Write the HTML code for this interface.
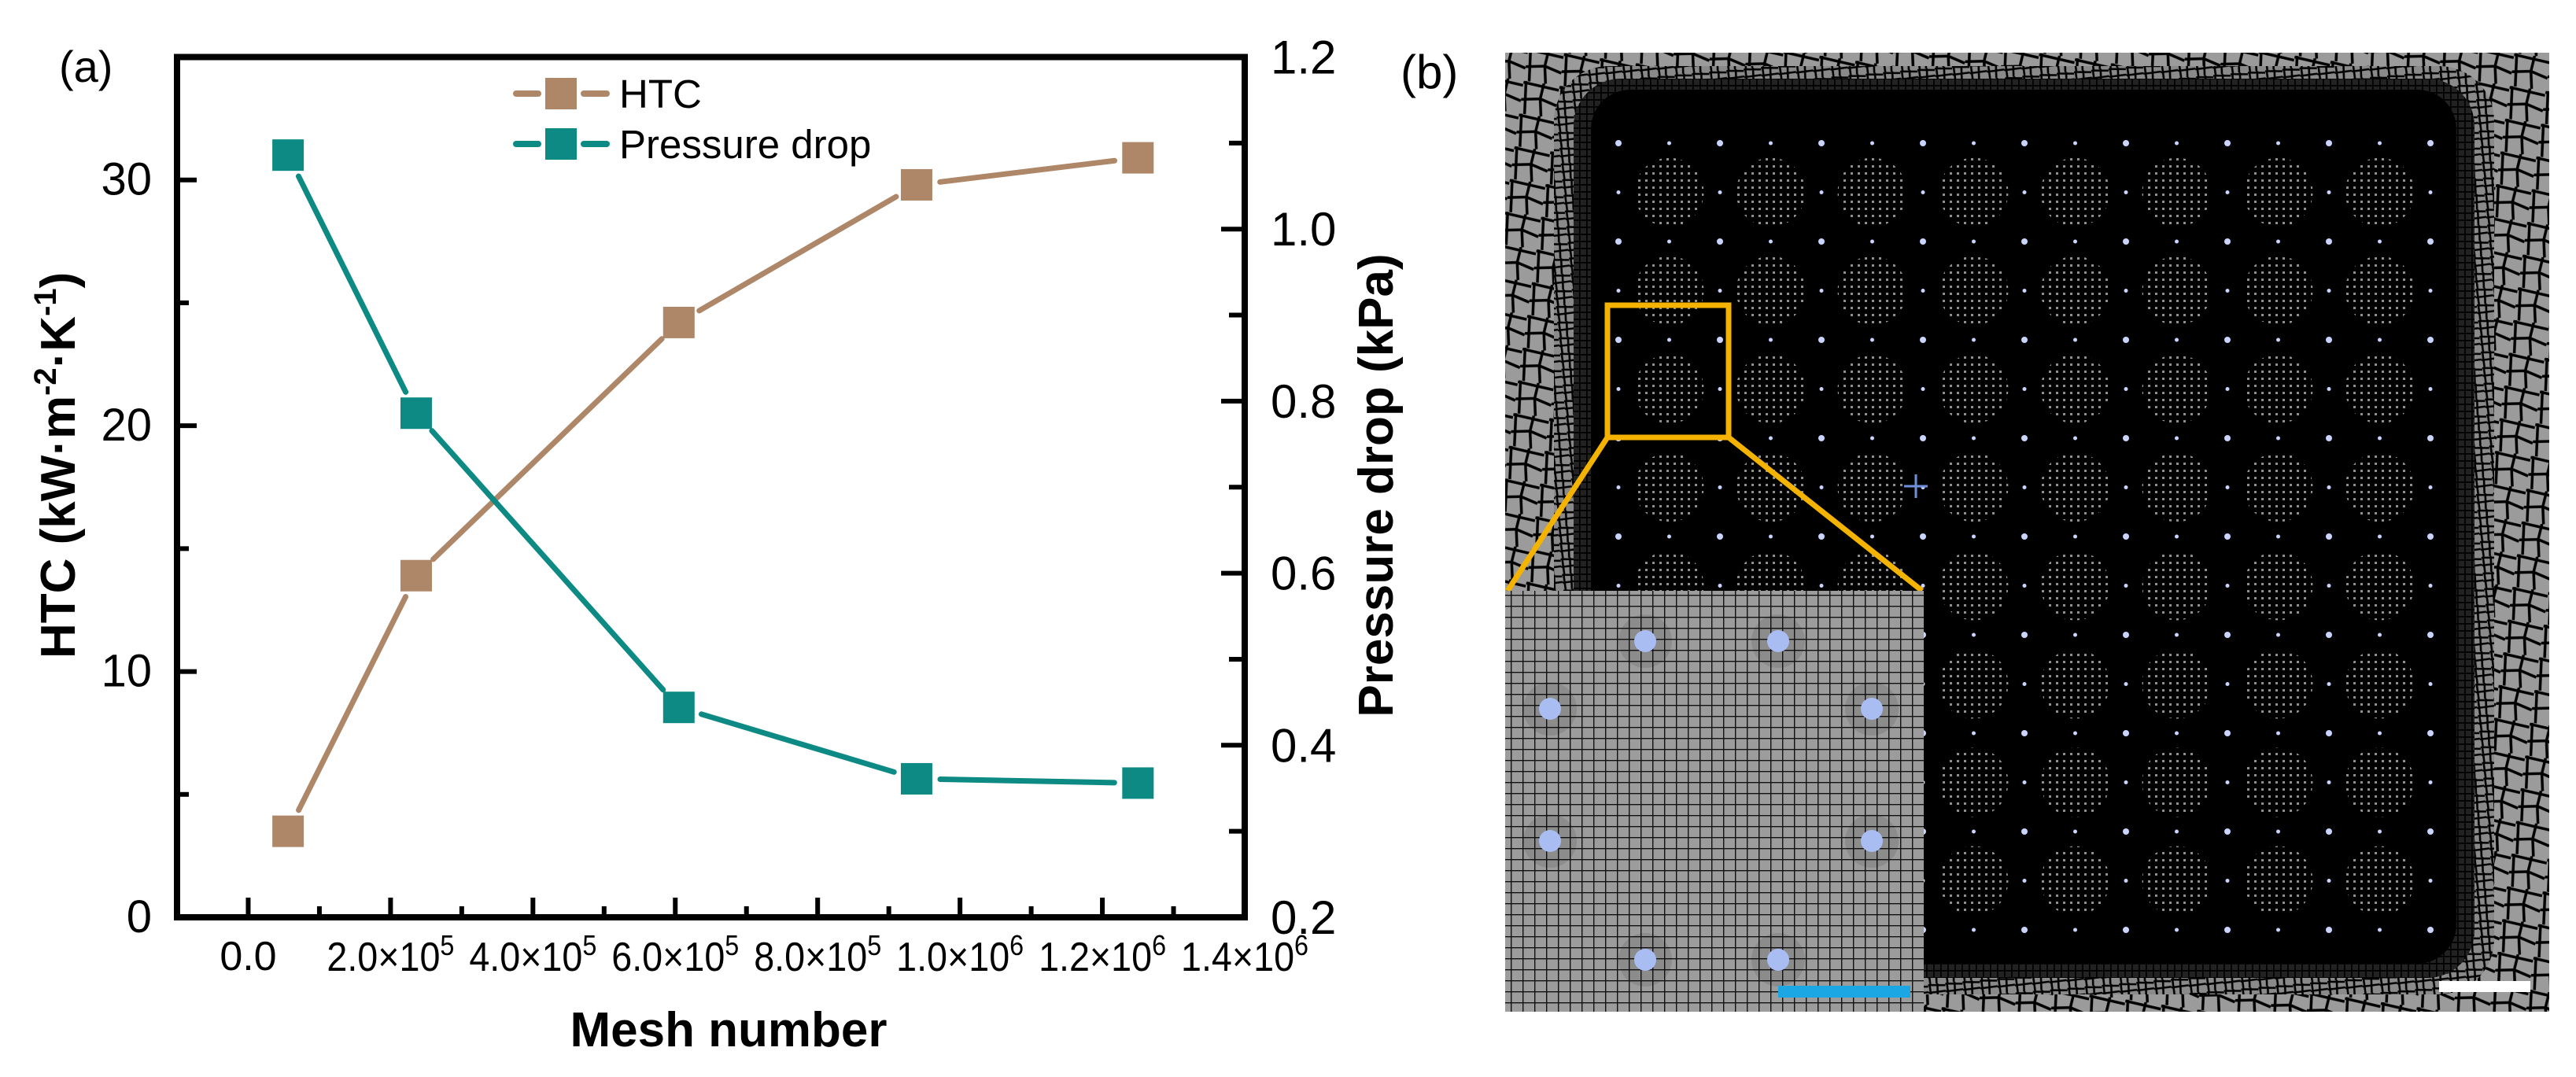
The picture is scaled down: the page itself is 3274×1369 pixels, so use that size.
<!DOCTYPE html>
<html><head><meta charset="utf-8"><style>
html,body{margin:0;padding:0;background:#fff;}
svg{display:block;font-family:"Liberation Sans",Arial,sans-serif;}
</style></head><body>
<svg id="fig" width="3274" height="1369" viewBox="0 0 3274 1369" xmlns="http://www.w3.org/2000/svg">
<defs>
  <pattern id="coarse" width="46" height="42" patternUnits="userSpaceOnUse" patternTransform="rotate(8)">
    <rect width="46" height="42" fill="#9b9b9b"/>
    <path d="M0 2 L46 6 M3 0 L7 42 M0 24 L24 20 L46 26 M26 0 L24 20 L28 42" stroke="#000" stroke-width="3.5" fill="none"/>
  </pattern>
  <pattern id="medium" width="22" height="20" patternUnits="userSpaceOnUse" patternTransform="rotate(-5)">
    <rect width="22" height="20" fill="#8a8a8a"/>
    <path d="M0 1 L22 3 M2 0 L3 20 M0 11 L22 10 M12 0 L11 20" stroke="#000" stroke-width="2.6" fill="none"/>
  </pattern>
  <pattern id="fine" width="9" height="9" patternUnits="userSpaceOnUse">
    <rect width="9" height="9" fill="#222"/>
    <path d="M0 0.5 L9 0.5 M0.5 0 L0.5 9" stroke="#000" stroke-width="2.4"/>
  </pattern>
  <pattern id="speck" width="9" height="9" patternUnits="userSpaceOnUse">
    <rect width="9" height="9" fill="#000"/>
    <rect x="3" y="3" width="3" height="3" fill="#a0a0a0"/>
  </pattern>
  <pattern id="insetmesh" width="15" height="14" patternUnits="userSpaceOnUse">
    <rect width="15" height="14" fill="#9c9c9c"/>
    <path d="M0 0.6 L15 0.6 M0.6 0 L0.6 14" stroke="#111" stroke-width="1.6"/>
  </pattern>
</defs>

<text x="75" y="104" font-size="56">(a)</text>
<text x="1780" y="112" font-size="60">(b)</text>

<g id="chart"></g>

<g>
  <rect x="1913" y="67" width="1327" height="1219" fill="url(#coarse)"/>
  <rect x="1975" y="84" width="1195" height="1180" rx="70" fill="url(#medium)"/>
  <rect x="2000" y="100" width="1145" height="1143" rx="60" fill="url(#fine)"/>
  <rect x="2022" y="114" width="1100" height="1111" rx="50" fill="#000"/>
  <g id="cells"></g>
  <g stroke="#6f8fdc" stroke-width="3">
    <line x1="2420" y1="618" x2="2450" y2="618"/><line x1="2435" y1="603" x2="2435" y2="633"/>
  </g>
  <rect x="3100" y="1247" width="116" height="14" fill="#fff"/>
  <rect x="2043" y="388" width="154" height="168" fill="none" stroke="#f5b301" stroke-width="7"/>
  <line x1="2043" y1="556" x2="1916" y2="751" stroke="#f5b301" stroke-width="7"/>
  <line x1="2197" y1="556" x2="2443" y2="751" stroke="#f5b301" stroke-width="7"/>
  <g>
    <rect x="1913" y="751" width="532" height="535" fill="url(#insetmesh)"/>
    <g id="insetdots"></g>
    <rect x="2260" y="1253" width="168" height="15" fill="#1aa7e3"/>
  </g>
</g>

<script>
// ---- Chart (a) data ----
const meshNumbers = [56000, 236000, 605000, 939000, 1250000];
const htcValues = [3.5, 13.9, 24.2, 29.8, 30.9];
const pressureValues = [1.086, 0.786, 0.444, 0.361, 0.356];
const xTickValues = [0, 200000, 400000, 600000, 800000, 1000000, 1200000, 1400000];
const xTickMantissa = ["0.0", "2.0", "4.0", "6.0", "8.0", "1.0", "1.2", "1.4"];
const xTickExp = ["", "5", "5", "5", "5", "6", "6", "6"];
const yLeftTicks = [0, 10, 20, 30];
const yRightTicks = [0.2, 0.4, 0.6, 0.8, 1.0, 1.2];
const seriesNames = ["HTC", "Pressure drop"];

const NS = "http://www.w3.org/2000/svg";
const L = 225, R = 1582, T = 72.5, B = 1166;
const X0 = -100000, X1 = 1400000, YL0 = 0, YL1 = 35, YR0 = 0.2, YR1 = 1.2;
function xS(v){ return L + (v - X0) / (X1 - X0) * (R - L); }
function yL(v){ return B - (v - YL0) / (YL1 - YL0) * (B - T); }
function yR(v){ return B - (v - YR0) / (YR1 - YR0) * (B - T); }
function mk(tag, attrs, parent){ const e = document.createElementNS(NS, tag); for (const k in attrs) e.setAttribute(k, attrs[k]); parent.appendChild(e); return e; }
const chart = document.getElementById("chart");
const C_HTC = "#ad8767", C_P = "#0d8a84";

const frame = mk("rect", {x:L, y:T, width:R-L, height:B-T, fill:"none", stroke:"#000", "stroke-width":8}, chart);



const xt = mk("g", {}, chart);


for (let i = 0; i < xTickValues.length; i++) {
  const x = xS(xTickValues[i]);
  if (i < xTickValues.length - 1) mk("line", {x1:x, y1:B, x2:x, y2:B-25, stroke:"#000", "stroke-width":6}, xt);
  const xm = xS(xTickValues[i] + 100000);
  if (xTickValues[i] + 100000 < X1) mk("line", {x1:xm, y1:B, x2:xm, y2:B-14, stroke:"#000", "stroke-width":6}, xt);
  const t = mk("text", {x:x, y:1234, "font-size":52, "text-anchor":"middle"}, xt);
  
  
  if (xTickExp[i]) {
    const a = mk("tspan", {}, t); a.textContent = xTickMantissa[i] + "×10";
    const b = mk("tspan", {dy:-20, "font-size":36}, t); b.textContent = xTickExp[i];
    t.setAttribute("textLength", 162); t.setAttribute("lengthAdjust", "spacingAndGlyphs");
    t.setAttribute("x", x - 81); t.setAttribute("text-anchor", "start");
  } else { t.textContent = xTickMantissa[i]; t.setAttribute("y", 1233); }
}
const yt = mk("g", {}, chart);


for (let v = 0; v <= 35; v += 5) {
  const y = yL(v); const major = v % 10 === 0;
  if (v > 0 && v < 35) mk("line", {x1:L, y1:y, x2:L + (major ? 25 : 15), y2:y, stroke:"#000", "stroke-width":6}, yt);
}
for (const v of yLeftTicks) {
  const t = mk("text", {x:193, y:yL(v) + 19, "font-size":58, "text-anchor":"end"}, yt);
  
  
  t.textContent = String(v);
}
const rt = mk("g", {}, chart);


for (let k = 3; k <= 11; k++) {
  const v = k / 10; const y = yR(v); const major = k % 2 === 0;
  mk("line", {x1:R, y1:y, x2:R - (major ? 30 : 20), y2:y, stroke:"#000", "stroke-width":6}, rt);
}
for (const v of yRightTicks) {
  const t = mk("text", {x:1615, y:yR(v) + 21, "font-size":60}, rt);
  
  
  t.textContent = v.toFixed(1);
}
const xtl = mk("text", {x:926, y:1330, "font-size":62, "font-weight":"bold", "text-anchor":"middle"}, chart);


xtl.textContent = "Mesh number";
const ytl = mk("text", {x:0, y:0, "font-size":62, "font-weight":"bold", "text-anchor":"start", transform:"translate(95,837) rotate(-90)"}, chart);


(function(){
  const parts = [["HTC (kW·m",0],["-2",-24],["·K",24],["-1",-24],[")",24]];
  for (const p of parts) { const s = mk("tspan", {dy:p[1]}, ytl); if (p[0] === "-2" || p[0] === "-1") s.setAttribute("font-size", 40); s.textContent = p[0]; }
})();
const ytr = mk("text", {x:0, y:0, "font-size":62, "font-weight":"bold", "text-anchor":"middle", transform:"translate(1770,617) rotate(-90)"}, chart);


ytr.textContent = "Pressure drop (kPa)";

function drawSeries(vals, yFn, color, name){
  const g = mk("g", {}, chart);
  
  
  const pts = vals.map((v, i) => [xS(meshNumbers[i]), yFn(v)]);
  for (let i = 0; i < pts.length - 1; i++) {
    const [x1, y1] = pts[i], [x2, y2] = pts[i+1];
    const d = Math.hypot(x2-x1, y2-y1), ux = (x2-x1)/d, uy = (y2-y1)/d, gap = 30;
    mk("line", {x1:x1+ux*gap, y1:y1+uy*gap, x2:x2-ux*gap, y2:y2-uy*gap, stroke:color, "stroke-width":7, "stroke-linecap":"round"}, g);
  }
  pts.forEach(p => {
    const m = mk("rect", {x:p[0]-20, y:p[1]-20, width:40, height:40, fill:color}, g);
    
    
  });
}
drawSeries(htcValues, yL, C_HTC, "htc");
drawSeries(pressureValues, yR, C_P, "pressure-drop");

const lg = mk("g", {}, chart);


[[119, C_HTC], [183, C_P]].forEach((e, i) => {
  const row = mk("g", {}, lg);
  
  
  mk("line", {x1:656, y1:e[0], x2:684, y2:e[0], stroke:e[1], "stroke-width":8, "stroke-linecap":"round"}, row);
  mk("line", {x1:742, y1:e[0], x2:771, y2:e[0], stroke:e[1], "stroke-width":8, "stroke-linecap":"round"}, row);
  mk("rect", {x:693, y:e[0]-20, width:40, height:40, fill:e[1]}, row);
  const t = mk("text", {x:787, y:e[0]+18, "font-size":51}, row);
  t.textContent = seriesNames[i];
});

const cells = document.getElementById("cells");
const px0 = 2057, py0 = 182, pdx = 129, pdy = 125;
for (let r = 0; r < 8; r++) for (let c = 0; c < 8; c++) {
  const cx = px0 + pdx * (c + 0.5), cy = py0 + pdy * (r + 0.5);
  const cl = mk("circle", {cx:cx, cy:cy, r:44, fill:"url(#speck)", opacity:0.9}, cells);
  
  
}
for (let r = 0; r <= 8; r++) for (let c = 0; c <= 8; c++) {
  const x = px0 + pdx * c, y = py0 + pdy * r;
  mk("circle", {cx:x, cy:y, r:4, fill:"#c9d4ff"}, cells);
  if (c < 8) mk("circle", {cx:x + pdx/2, cy:y, r:2.5, fill:"#c9d4ff"}, cells);
  if (r < 8) mk("circle", {cx:x, cy:y + pdy/2, r:2.5, fill:"#c9d4ff"}, cells);
}
const ins = document.getElementById("insetdots");
const idx = [2091, 2260, 1970, 2379, 1970, 2379, 2091, 2260];
const idy = [815, 815, 901, 901, 1069, 1069, 1220, 1220];
for (let i = 0; i < idx.length; i++) {
  mk("circle", {cx:idx[i], cy:idy[i], r:34, fill:"#000", opacity:0.1}, ins);
  const d = mk("circle", {cx:idx[i], cy:idy[i], r:14, fill:"#a9bdf2"}, ins);
  
  
}
</script>
</svg>
</body></html>
